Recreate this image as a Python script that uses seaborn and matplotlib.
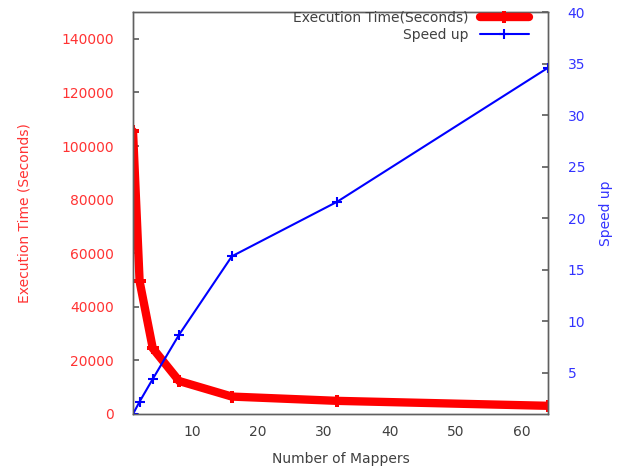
import pandas as pd
import matplotlib.pyplot as plt
import seaborn as sns

# Data
mappers = [1, 2, 4, 8, 16, 32, 64]
exec_time = [105500, 49500, 24500, 12300, 6500, 4900, 3050]
speed_up = [1.0, 2.2, 4.4, 8.7, 16.3, 21.6, 34.6]

df = pd.DataFrame({'Mappers': mappers, 'Time': exec_time, 'Speedup': speed_up})

sns.set_theme(style='white')
plt.rcParams['font.family'] = ['DejaVu Sans']

fig = plt.figure(figsize=(6.28, 4.74), dpi=100)
ax = fig.add_axes([0.2118, 0.1266, 0.661, 0.848])
ax2 = ax.twinx()

sns.lineplot(data=df, x='Mappers', y='Time', ax=ax, color='#ff0000', linewidth=6,
             marker='P', markersize=9, markeredgewidth=0, label='Execution Time(Seconds)',
             legend=False)
sns.lineplot(data=df, x='Mappers', y='Speedup', ax=ax2, color='#0000ff', linewidth=1.5,
             marker='+', markersize=7, markeredgewidth=1.5, markeredgecolor='#0000ff',
             label='Speed up', legend=False)

ax.set_xlim(1, 64)
ax.set_ylim(0, 150000)
ax2.set_ylim(1, 40)
ax.set_xticks([10, 20, 30, 40, 50, 60])
ax.set_yticks(range(0, 140001, 20000))
ax2.set_yticks([5, 10, 15, 20, 25, 30, 35, 40])

ax.set_xlabel('Number of Mappers', fontsize=10, color='#404040', labelpad=9)
ax.set_ylabel('Execution Time (Seconds)', fontsize=10, color='#ff3333', labelpad=21)
ax2.set_ylabel('Speed up', fontsize=10, color='#3333ff', labelpad=10)

ax.tick_params(axis='x', direction='in', colors='#404040', labelsize=10, length=4, pad=8)
ax.tick_params(axis='y', direction='in', colors='#606060', labelcolor='#ff3333',
               labelsize=10, length=4, pad=14)
ax2.tick_params(axis='y', direction='in', colors='#606060', labelcolor='#3333ff',
                labelsize=10, length=4, pad=14)

for a in (ax, ax2):
    for s in a.spines.values():
        s.set_color('#606060')
        s.set_linewidth(1)

h1, l1 = ax.get_legend_handles_labels()
h2, l2 = ax2.get_legend_handles_labels()
leg = ax2.legend(h1 + h2, l1 + l2, loc='upper right', markerfirst=False, frameon=False,
                 fontsize=10, handlelength=3.5, borderaxespad=0.1, labelspacing=0.2,
                 bbox_to_anchor=(0.97, 1.02))
for t in leg.get_texts():
    t.set_color('#404040')

fig.savefig('out.png', dpi=100)
